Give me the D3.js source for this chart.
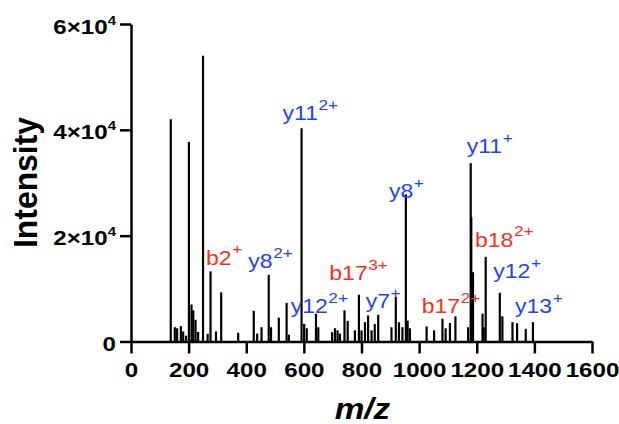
<!DOCTYPE html>
<html>
<head>
<meta charset="utf-8">
<script src="https://cdn.jsdelivr.net/npm/d3@7"></script>
<style>
  html, body { margin: 0; padding: 0; background: #fff; }
  svg { display: block; }
  text { font-family: "Liberation Sans", Arial, Helvetica, sans-serif; }
</style>
</head>
<body>
<svg id="chart" width="619" height="424"></svg>
<script>
// ---------- data ----------
const mz = [138,152,160,173,181,191,201,210,216,224,
            233,250,266,276,295,313,372,426,438,453,
            478,486,513,540,548,592,601,610,642,650,
            698,708,717,725,741,752,777,791,800,812,
            823,835,846,858,904,919,930,942,954,960,
            968,1026,1052,1081,1092,1107,1126,1170,1179,1181,
            1187,1220,1224,1231,1280,1289,1324,1340,1370,1395];
const intensity = [42000,2700,2500,2900,1900,1100,37700,7000,5900,4100,
            1800,54000,1450,13250,1900,9300,1650,5800,1500,2700,
            12600,2700,4500,7300,1300,40300,3350,2500,5250,2700,
            1750,2500,2100,1500,5900,3900,2100,8840,2100,3650,
            4900,2100,3300,5050,2700,8400,3650,2700,27800,3950,
            2500,2850,2100,4300,2500,3500,4750,2700,33700,23500,
            13100,5250,2700,16000,9200,4750,3650,3450,2400,3650];

const xTicks = [0,200,400,600,800,1000,1200,1400,1600];
const yTicks = [0,20000,40000,60000];
const yTickMantissa = ["0","2×10","4×10","6×10"];
const yTickExponent = ["","4","4","4"];

// annotated ions
const ionNames   = ["y11","b2","y8","b17","y12","y7","y8","y11","b18","y12","b17","y13"];
const ionCharges = ["2+","+","2+","3+","2+","+","+","+","2+","+","2+","+"];
const ionSeries  = ["y","b","y","b","y","y","y","y","b","y","b","y"];
const ionPeakMz  = [592,276,478,791,642,919,954,1179,1231,1280,1126,1395];

// ---------- layout / style ----------
const labelOffsets = [[-19,-8],[-4.5,-6.5],[-20.4,-6.5],[-29.6,-14.7],[-25.3,-0.4],[-30.1,11.3],
                      [-16.9,3.9],[-4,-9.9],[-10.7,-10.1],[-6.5,-14.5],[-33.7,-3.1],[-17.9,-8.9]];
const seriesColor = {b: "#f5301c", y: "#1e44f5"};
const SX = 1.15; // horizontal text stretch

const svg = d3.select("#chart");
const x = d3.scaleLinear().domain([0,1600]).range([131,592]);
const y = d3.scaleLinear().domain([0,60000]).range([341.5,24]);

const peaks = mz.map((m,i)=>({mz:m, v:intensity[i]}));

// peaks
svg.append("g").selectAll("line").data(peaks).join("line")
  .attr("x1", d=>x(d.mz)).attr("x2", d=>x(d.mz))
  .attr("y1", y(0)).attr("y2", d=>y(d.v))
  .attr("stroke","#000").attr("stroke-width",2.2);

// x axis
const gx = svg.append("g").attr("transform",`translate(0,${y(0)})`)
  .call(d3.axisBottom(x).tickValues(xTicks).tickSize(12).tickSizeOuter(0).tickFormat(d3.format("d")));
gx.select(".domain").attr("stroke-width",2.5);
gx.selectAll(".tick line").attr("stroke-width",2.5);
gx.selectAll(".tick text")
  .attr("y",35.5).attr("dy",0)
  .attr("transform",`scale(${SX},1)`)
  .attr("font-size",21).attr("font-weight","bold").attr("fill","#000")
  .attr("font-family","'Liberation Sans', Arial, sans-serif");

// y axis
const gy = svg.append("g").attr("transform",`translate(${x(0)},0)`)
  .call(d3.axisLeft(y).tickValues(yTicks).tickSize(11).tickSizeOuter(0).tickFormat(""));
gy.select(".domain").attr("stroke-width",2.5);
gy.selectAll(".tick line").attr("stroke-width",2.5);
gy.selectAll(".tick").each(function(d,i){
  const t = d3.select(this).append("text")
    .attr("x", -15/SX).attr("y", 9)
    .attr("text-anchor","end")
    .attr("transform",`scale(${SX},1)`)
    .attr("font-size",21).attr("font-weight","bold").attr("fill","#000");
  t.append("tspan").text(yTickMantissa[i]);
  if (yTickExponent[i]) t.append("tspan").attr("dy",-9).attr("font-size",13).text(yTickExponent[i]);
});

// axis titles
svg.append("text")
  .attr("transform",`translate(37,182.5) rotate(-90) scale(1,${SX})`)
  .attr("text-anchor","middle")
  .attr("font-size",29).attr("font-weight","bold")
  .attr("textLength",131).attr("lengthAdjust","spacingAndGlyphs")
  .text("Intensity");
svg.append("text")
  .attr("transform",`translate(362.5,419) scale(${SX},1)`)
  .attr("text-anchor","middle")
  .attr("font-size",29).attr("font-weight","bold").attr("font-style","italic")
  .text("m/z");

// ion labels
ionNames.forEach((name,i)=>{
  const pmz = ionPeakMz[i];
  const idx = mz.indexOf(pmz);
  const px = x(pmz), py = y(intensity[idx]);
  const t = svg.append("text")
    .attr("transform",`translate(${px+labelOffsets[i][0]},${py+labelOffsets[i][1]}) scale(${SX},1)`)
    .attr("fill", seriesColor[ionSeries[i]])
    .attr("font-size",20);
  t.append("tspan").text(name);
  t.append("tspan").attr("dx",0.5).attr("dy",-10.5).attr("font-size",15).text(ionCharges[i]);
});
</script>
</body>
</html>
